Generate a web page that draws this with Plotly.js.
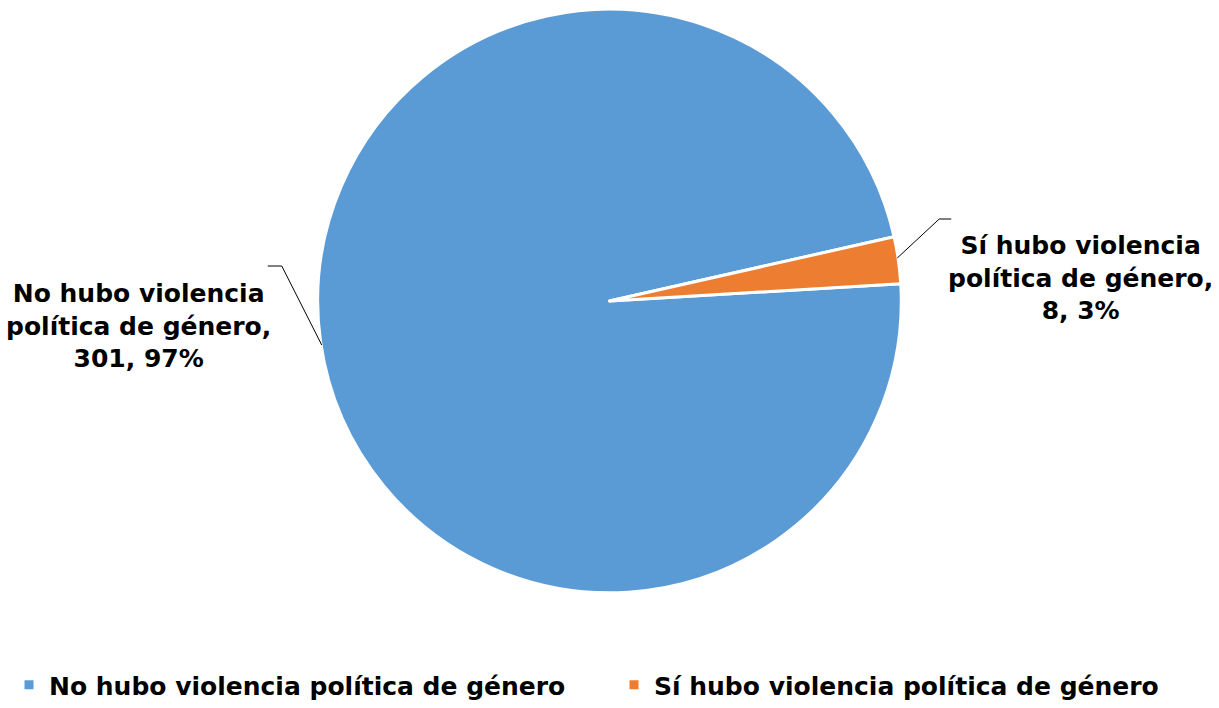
<!DOCTYPE html>
<html>
<head>
<meta charset="utf-8">
<script src="https://cdn.plot.ly/plotly-3.0.1.min.js"></script>
<style>html,body{margin:0;padding:0;background:#fff;}#chart{width:1219px;height:708px;}</style>
</head>
<body>
<div id="chart"></div>
<script>
const categories = ["No hubo violencia política de género", "Sí hubo violencia política de género"];
const dataLabels = ["No hubo violencia<br>política de género,", "Sí hubo violencia<br>política de género,"];
const values = [301, 8];
const percents = ["97%", "3%"];
const colors = ["#5B9BD5", "#ED7D31"];

const W = 1219, H = 708;
const px = x => x / W;
const py = y => 1 - y / H;
const fam = "DejaVu Sans, Arial, sans-serif";
const labelFont = {family: fam, size: 25, color: "#000", weight: 700};

const trace = {
  type: "pie",
  labels: categories,
  values: values,
  sort: false,
  direction: "clockwise",
  rotation: 86.6,
  marker: {colors: colors, line: {color: "#fff", width: 3}},
  textinfo: "none",
  hoverinfo: "label+value+percent",
  domain: {x: [px(318), px(902)], y: [py(593), py(9)]}
};

const annotations = [
  {x: px(139), y: py(326), text: dataLabels[0] + "<br>" + values[0] + ", " + percents[0]},
  {x: px(1081), y: py(278), text: dataLabels[1] + "<br>" + values[1] + ", " + percents[1]}
].map(a => Object.assign({xref: "paper", yref: "paper", showarrow: false, xanchor: "center", yanchor: "middle", align: "center", font: labelFont}, a));

const lineStyle = {color: "#000", width: 1};
function seg(x0, y0, x1, y1) {
  return {type: "line", xref: "paper", yref: "paper", x0: px(x0), y0: py(y0), x1: px(x1), y1: py(y1), line: lineStyle};
}
const leaderShapes = [
  seg(268, 266, 282, 266), seg(282, 266, 322, 345),
  seg(898, 258, 940, 219), seg(940, 219, 952, 219)
];

const layout = {
  width: W, height: H,
  margin: {l: 0, r: 0, t: 0, b: 0},
  paper_bgcolor: "#fff",
  showlegend: true,
  legend: {
    orientation: "h", x: px(642), xanchor: "center", y: 0, yanchor: "bottom",
    font: {family: fam, size: 25, color: "#000", weight: 700},
    itemwidth: 30, entrywidth: 560, traceorder: "normal"
  },
  annotations: annotations,
  shapes: leaderShapes
};

Plotly.newPlot("chart", [trace], layout, {displayModeBar: false});
</script>
</body>
</html>
